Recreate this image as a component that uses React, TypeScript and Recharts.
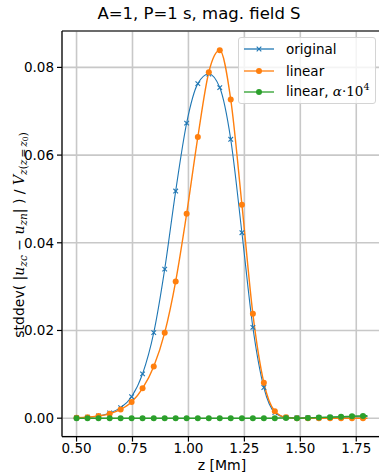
import {
  LineChart,
  Line,
  XAxis,
  YAxis,
  CartesianGrid,
  ReferenceLine,
  Legend,
} from "recharts";

// z positions of the plotted samples (last one only extends the lines)
const zValues = [
  0.5, 0.549, 0.598, 0.648, 0.697, 0.746, 0.795, 0.845, 0.894, 0.943, 0.992,
  1.042, 1.091, 1.14, 1.189, 1.239, 1.288, 1.337, 1.386, 1.436, 1.485, 1.534,
  1.583, 1.633, 1.682, 1.731, 1.78, 1.8,
];

const original = [
  0.0001, 0.0002, 0.0005, 0.0012, 0.0024, 0.0049, 0.0101, 0.0195, 0.034,
  0.0518, 0.0673, 0.0763, 0.0785, 0.0754, 0.0636, 0.0423, 0.0207, 0.007,
  0.0013, 0.0002, 0.0001, 0.0001, 0.0001, 0.0002, 0.0002, 0.0003, 0.0003,
  0.0004,
];

const linear = [
  0.0001, 0.0002, 0.0005, 0.001, 0.002, 0.0037, 0.0068, 0.0118, 0.0195,
  0.0312, 0.0466, 0.0641, 0.0789, 0.0839, 0.0727, 0.0487, 0.0238, 0.0081,
  0.0016, 0.0002, 0, 0, 0, 0, 0, 0, 0, 0,
];

const linearAlpha = [
  0, 0, 0, 0, 0, 0, 0, 0, 0, 0, 0, 0, 0, 0, 0, 0, 0, 0, 0, 0.00007, 0,
  0.00007, 0.00016, 0.00023, 0.0003, 0.00046, 0.00052, 0.00056,
];

const xTicks = [0.5, 0.75, 1.0, 1.25, 1.5, 1.75];
const yTicks = [0, 0.02, 0.04, 0.06, 0.08];

const N_MARKERS = 27;
const BLUE = "#1f77b4";
const ORANGE = "#ff7f0e";
const GREEN = "#2ca02c";
const FONT = "DejaVu Sans";
const SERIF = "DejaVu Serif";

const data = zValues.map((z, i) => ({
  z,
  original: original[i],
  linear: linear[i],
  linearAlpha: linearAlpha[i],
}));

function crossDot(props: any) {
  const { cx, cy, index } = props;
  if (index >= N_MARKERS || cx == null) return <g key={`x${index}`} />;
  const h = 2.3;
  return (
    <g key={`x${index}`} stroke={BLUE} strokeWidth={1.1}>
      <line x1={cx - h} y1={cy - h} x2={cx + h} y2={cy + h} />
      <line x1={cx - h} y1={cy + h} x2={cx + h} y2={cy - h} />
    </g>
  );
}

function circleDot(color: string) {
  return (props: any) => {
    const { cx, cy, index } = props;
    if (index >= N_MARKERS || cx == null) return <g key={`c${index}`} />;
    return <circle key={`c${index}`} cx={cx} cy={cy} r={3} fill={color} stroke="none" />;
  };
}

const legendItems = [
  { key: "original", color: BLUE, marker: "x" },
  { key: "linear", color: ORANGE, marker: "o" },
  { key: "alpha", color: GREEN, marker: "o" },
];

function LegendBox() {
  return (
    <div
      style={{
        boxSizing: "border-box",
        width: 138,
        height: 67,
        background: "rgba(255,255,255,0.8)",
        border: "1px solid #d4d4d4",
        borderRadius: 3,
        paddingTop: 0.5,
        fontFamily: FONT,
        fontSize: 13.5,
        color: "#000",
      }}
    >
      {legendItems.map((it) => (
        <div key={it.key} style={{ display: "flex", alignItems: "center", height: 21.5 }}>
          <svg width={30} height={10} style={{ marginLeft: 5, overflow: "visible" }}>
            <line x1={0} y1={5} x2={30} y2={5} stroke={it.color} strokeWidth={1.3} />
            {it.marker === "x" ? (
              <g stroke={it.color} strokeWidth={1.1}>
                <line x1={12.7} y1={2.7} x2={17.3} y2={7.3} />
                <line x1={12.7} y1={7.3} x2={17.3} y2={2.7} />
              </g>
            ) : (
              <circle cx={15} cy={5} r={3} fill={it.color} />
            )}
          </svg>
          <span style={{ marginLeft: 12, whiteSpace: "pre", lineHeight: "16px" }}>
            {it.key === "original" && "original"}
            {it.key === "linear" && "linear"}
            {it.key === "alpha" && (
              <>
                {"linear, "}
                <span style={{ fontFamily: SERIF, fontStyle: "italic" }}>α</span>
                <span style={{ fontFamily: SERIF }}>
                  {"·10"}
                  <span style={{ fontSize: 9.5, position: "relative", top: -6 }}>4</span>
                </span>
              </>
            )}
          </span>
        </div>
      ))}
    </div>
  );
}

export default function App() {
  const sub = { fontFamily: SERIF, fontStyle: "italic" as const, fontSize: 10.5 };
  const it = { fontFamily: SERIF, fontStyle: "italic" as const };
  return (
    <div
      style={{
        position: "fixed",
        top: 0,
        left: 0,
        width: 379,
        height: 475,
        overflow: "hidden",
        background: "#fff",
        fontFamily: FONT,
      }}
    >
      <LineChart
        width={390}
        height={475}
        data={data}
        margin={{ top: 31, right: 8, bottom: 0, left: 0 }}
      >
        <CartesianGrid stroke="#c8c8c8" strokeWidth={1.6} />
        <XAxis
          type="number"
          dataKey="z"
          domain={[0.435, 1.865]}
          ticks={xTicks}
          allowDataOverflow
          tickFormatter={(v: number) => v.toFixed(2)}
          height={38.4}
          stroke="#000"
          strokeWidth={1.2}
          tickSize={5}
          tickMargin={2}
          tick={{ fontSize: 13.5, fill: "#000", fontFamily: FONT }}
        />
        <YAxis
          type="number"
          domain={[-0.0042, 0.0883]}
          ticks={yTicks}
          allowDataOverflow
          tickFormatter={(v: number) => v.toFixed(2)}
          width={62}
          stroke="#000"
          strokeWidth={1.2}
          tickSize={5}
          tickMargin={3}
          tick={{ fontSize: 13.5, fill: "#000", fontFamily: FONT }}
        />
        <ReferenceLine y={0.0883} stroke="#000" strokeWidth={1.2} />
        <ReferenceLine x={1.865} stroke="#000" strokeWidth={1.2} />
        <Line
          type="monotone"
          dataKey="original"
          stroke={BLUE}
          strokeWidth={1.1}
          dot={crossDot}
          activeDot={false}
          isAnimationActive={false}
        />
        <Line
          type="monotone"
          dataKey="linear"
          stroke={ORANGE}
          strokeWidth={1.4}
          dot={circleDot(ORANGE)}
          activeDot={false}
          isAnimationActive={false}
        />
        <Line
          type="monotone"
          dataKey="linearAlpha"
          stroke={GREEN}
          strokeWidth={1.5}
          dot={circleDot(GREEN)}
          activeDot={false}
          isAnimationActive={false}
        />
        <Legend
          layout="vertical"
          align="center"
          verticalAlign="middle"
          content={() => <LegendBox />}
          wrapperStyle={{ top: 37, left: 238, width: 138, height: 67 }}
        />
      </LineChart>
      <svg
        width={379}
        height={475}
        style={{ position: "absolute", top: 0, left: 0, pointerEvents: "none" }}
      >
        <text x={199} y={19} textAnchor="middle" fontSize={16.5} fontFamily={FONT}>
          A=1, P=1 s, mag. field S
        </text>
        <text x={222} y={470} textAnchor="middle" fontSize={14} fontFamily={FONT}>
          z [Mm]
        </text>
        <text
          x={24}
          y={235}
          transform="rotate(-90 24 235)"
          textAnchor="middle"
          fontSize={14}
          fontFamily={FONT}
          style={{ whiteSpace: "pre" }}
        >
          <tspan>{"stddev( |"}</tspan>
          <tspan {...it}>u</tspan>
          <tspan {...sub} dy={2.8}>zc</tspan>
          <tspan fontFamily={SERIF} dy={-2.8}>{" − "}</tspan>
          <tspan {...it}>u</tspan>
          <tspan {...sub} dy={2.8}>zn</tspan>
          <tspan dy={-2.8}>{"| ) / "}</tspan>
          <tspan {...it}>V</tspan>
          <tspan {...sub} dy={2.8}>z</tspan>
          <tspan fontFamily={SERIF} fontSize={10.5}>(</tspan>
          <tspan {...sub}>z</tspan>
          <tspan fontFamily={SERIF} fontSize={10.5}>{"\u2009=\u2009"}</tspan>
          <tspan {...sub}>z</tspan>
          <tspan fontFamily={SERIF} fontSize={7.5} dy={1.6}>0</tspan>
          <tspan fontFamily={SERIF} fontSize={10.5} dy={-1.6}>)</tspan>
        </text>
      </svg>
    </div>
  );
}
